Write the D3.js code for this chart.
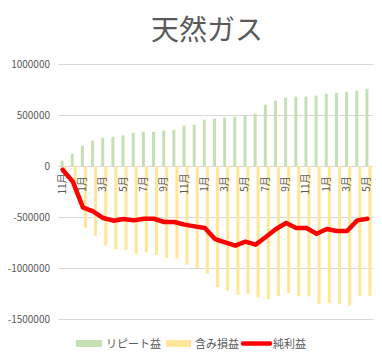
<!DOCTYPE html>
<html>
<head>
<meta charset="utf-8">
<script src="https://cdn.jsdelivr.net/npm/d3@7"></script>
<style>
  body { margin: 0; background: #fff; }
  svg text { font-family: "Noto Sans CJK JP", "Noto Sans", sans-serif; fill: #595959; }
</style>
</head>
<body>
<svg id="chart" width="382" height="353"></svg>
<script>
// months, Nov -> May (31 months)
const months = ["11月","12月","1月","2月","3月","4月","5月","6月","7月","8月","9月","10月",
  "11月","12月","1月","2月","3月","4月","5月","6月","7月","8月","9月","10月",
  "11月","12月","1月","2月","3月","4月","5月"];

const repeatProfit = [52000, 120000, 199000, 248000, 277000, 287000, 300000, 326000, 336000, 336000,
  346000, 356000, 395000, 405000, 454000, 464000, 474000, 484000, 500000, 513000,
  601000, 640000, 670000, 680000, 680000, 690000, 709000, 719000, 729000, 738000, 758000];

const unrealized = [-88000, -271000, -608000, -683000, -781000, -821000, -821000, -863000, -847000, -870000,
  -904000, -906000, -968000, -1000000, -1056000, -1188000, -1223000, -1262000, -1255000, -1288000,
  -1306000, -1272000, -1245000, -1278000, -1278000, -1350000, -1347000, -1353000, -1368000, -1278000, -1272000];

const netProfit = [-36000, -151000, -406000, -445000, -510000, -536000, -520000, -533000, -517000, -517000,
  -549000, -549000, -575000, -592000, -608000, -716000, -749000, -781000, -742000, -771000,
  -696000, -618000, -559000, -608000, -608000, -664000, -618000, -637000, -637000, -533000, -517000];

const yTicks = [-1500000, -1000000, -500000, 0, 500000, 1000000];

const svg = d3.select("#chart");

const x = d3.scaleBand()
  .domain(d3.range(months.length))
  .range([58, 373]);

const y = d3.scaleLinear()
  .domain([-1500000, 1000000])
  .range([319, 64]);

const barW = 3;

// title
svg.append("text")
  .attr("x", 207)
  .attr("y", 40)
  .attr("text-anchor", "middle")
  .style("font-size", "28px")
  .text("天然ガス");

// gridlines
svg.append("g")
  .selectAll("line")
  .data(yTicks)
  .join("line")
  .attr("x1", 58)
  .attr("x2", 373)
  .attr("y1", (d) => Math.round(y(d)) + 0.5)
  .attr("y2", (d) => Math.round(y(d)) + 0.5)
  .attr("stroke", "#d9d9d9")
  .attr("stroke-width", 1);

// y labels
svg.append("g")
  .selectAll("text")
  .data(yTicks)
  .join("text")
  .attr("x", 50)
  .attr("y", (d) => y(d))
  .attr("dy", "0.35em")
  .attr("text-anchor", "end")
  .style("font-size", "10px")
  .text((d) => d);

const mid = (i) => x(i) + x.bandwidth() / 2 + 0.5;

// bars
svg.append("g")
  .selectAll("rect")
  .data(repeatProfit)
  .join("rect")
  .attr("x", (d, i) => mid(i) - barW)
  .attr("width", barW)
  .attr("y", (d) => y(d))
  .attr("height", (d) => y(0) - y(d))
  .attr("fill", "#c5e0b4");

svg.append("g")
  .selectAll("rect")
  .data(unrealized)
  .join("rect")
  .attr("x", (d, i) => mid(i))
  .attr("width", barW)
  .attr("y", y(0))
  .attr("height", (d) => y(d) - y(0))
  .attr("fill", "#ffe699");

// x labels (every other month)
svg.append("g")
  .selectAll("text")
  .data(months.map((m, i) => ({ m, i })).filter((d) => d.i % 2 === 0))
  .join("text")
  .attr("transform", (d) => `translate(${x(d.i) + x.bandwidth() / 2 - 1},184) rotate(-90)`)
  .attr("text-anchor", "middle")
  .attr("dy", "0.35em")
  .style("font-size", "10px")
  .text((d) => d.m);

// net profit line
const line = d3.line()
  .x((d, i) => mid(i) - 1)
  .y((d) => y(d));

svg.append("path")
  .datum(netProfit)
  .attr("d", line)
  .attr("fill", "none")
  .attr("stroke", "#ff0000")
  .attr("stroke-width", 4.5)
  .attr("stroke-linejoin", "round")
  .attr("stroke-linecap", "round");

// legend
const legend = svg.append("g").style("font-size", "11px");
legend.append("rect").attr("x", 76).attr("y", 340).attr("width", 26).attr("height", 7).attr("fill", "#c5e0b4");
legend.append("text").attr("x", 106).attr("y", 347.5).text("リピート益");
legend.append("rect").attr("x", 166).attr("y", 340).attr("width", 25).attr("height", 7).attr("fill", "#ffe699");
legend.append("text").attr("x", 195).attr("y", 347.5).text("含み損益");
legend.append("line").attr("x1", 243).attr("x2", 270).attr("y1", 343.5).attr("y2", 343.5)
  .attr("stroke", "#ff0000").attr("stroke-width", 4.5).attr("stroke-linecap", "round");
legend.append("text").attr("x", 273).attr("y", 347.5).text("純利益");
</script>
</body>
</html>
